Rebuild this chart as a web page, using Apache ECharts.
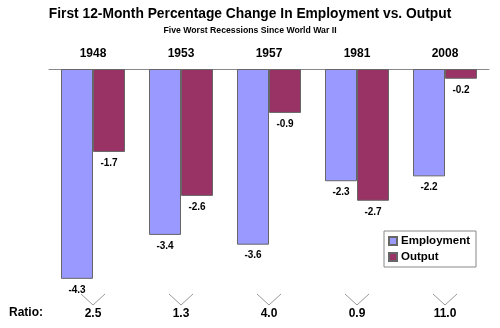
<!DOCTYPE html>
<html>
<head>
<meta charset="utf-8">
<script src="https://cdn.jsdelivr.net/npm/echarts@6/dist/echarts.min.js"></script>
<style>
  html, body { margin: 0; padding: 0; background: #fff; }
  #chart { width: 500px; height: 328px; }
</style>
</head>
<body>
<div id="chart"></div>
<script>
// Recession start years
var categories = ['1948', '1953', '1957', '1981', '2008'];
// First 12-month % change in employment
var employment = [-4.3, -3.4, -3.6, -2.3, -2.2];
// First 12-month % change in output
var output = [-1.7, -2.6, -0.9, -2.7, -0.2];
// Employment change divided by output change
var ratios = ['2.5', '1.3', '4.0', '0.9', '11.0'];

var FONT = 'Liberation Sans, Arial, sans-serif';

var chart = echarts.init(document.getElementById('chart'), null, { renderer: 'canvas' });

var valueLabel = {
  show: true,
  position: 'bottom',
  distance: 6,
  color: '#000',
  fontFamily: FONT,
  fontWeight: 'bold',
  fontSize: 10,
  formatter: function (p) { return p.value.toFixed(1); }
};

chart.setOption({
  backgroundColor: '#fff',
  animation: false,
  title: [
    {
      text: 'First 12-Month Percentage Change In Employment vs. Output',
      left: 'center', top: 2,
      textStyle: { fontFamily: FONT, fontWeight: 'bold', fontSize: 13.8, color: '#000' }
    },
    {
      text: 'Five Worst Recessions Since World War II',
      left: 'center', top: 21,
      textStyle: { fontFamily: FONT, fontWeight: 'bold', fontSize: 8.7, color: '#000' }
    }
  ],
  legend: {
    orient: 'vertical',
    left: 384, top: 231,
    padding: [4, 6, 4, 4],
    itemGap: 4,
    itemWidth: 8, itemHeight: 8,
    backgroundColor: '#fff',
    borderColor: '#888', borderWidth: 1,
    icon: 'rect',
    textStyle: { fontFamily: FONT, fontWeight: 'bold', fontSize: 11.5, color: '#000', padding: [0, 0, 0, -1] },
    data: ['Employment', 'Output']
  },
  grid: { left: 49, right: 11, top: 69, bottom: 15 },
  xAxis: {
    type: 'category',
    position: 'top',
    data: categories,
    axisTick: { show: false },
    axisLine: { show: true, lineStyle: { color: '#888', width: 1 } },
    axisLabel: { margin: 9, fontFamily: FONT, fontWeight: 'bold', fontSize: 12, color: '#000' }
  },
  yAxis: {
    type: 'value',
    min: -5, max: 0,
    show: false
  },
  series: [
    {
      name: 'Employment',
      type: 'bar',
      data: employment,
      barWidth: 32,
      barGap: 0,
      itemStyle: { color: '#9999FF', borderColor: '#666', borderWidth: 1 },
      label: valueLabel
    },
    {
      name: 'Output',
      type: 'bar',
      data: output,
      barWidth: 32,
      itemStyle: { color: '#993366', borderColor: '#666', borderWidth: 1 },
      label: valueLabel
    },
    {
      // Ratio row: a small chevron above each ratio value
      type: 'custom',
      name: 'Ratio',
      data: ratios.map(function (r, i) { return [i, r]; }),
      clip: false,
      silent: true,
      encode: { x: 0 },
      renderItem: function (params, api) {
        var base = api.coord([api.value(0), -5]);
        var cx = base[0], by = base[1];
        return {
          type: 'group',
          children: [
            {
              type: 'polyline',
              shape: { points: [[cx - 12, by - 19], [cx, by - 8], [cx + 12, by - 19]] },
              style: { stroke: '#999', lineWidth: 1, fill: null }
            },
            {
              type: 'text',
              style: {
                x: cx, y: by + 1,
                text: ratios[params.dataIndex],
                align: 'center', verticalAlign: 'middle',
                font: 'bold 12px ' + FONT,
                fill: '#000'
              }
            }
          ]
        };
      }
    }
  ],
  graphic: [
    {
      type: 'text',
      left: 9, top: 307,
      style: { text: 'Ratio:', font: 'bold 12px ' + FONT, fill: '#000' }
    }
  ]
});
</script>
</body>
</html>
